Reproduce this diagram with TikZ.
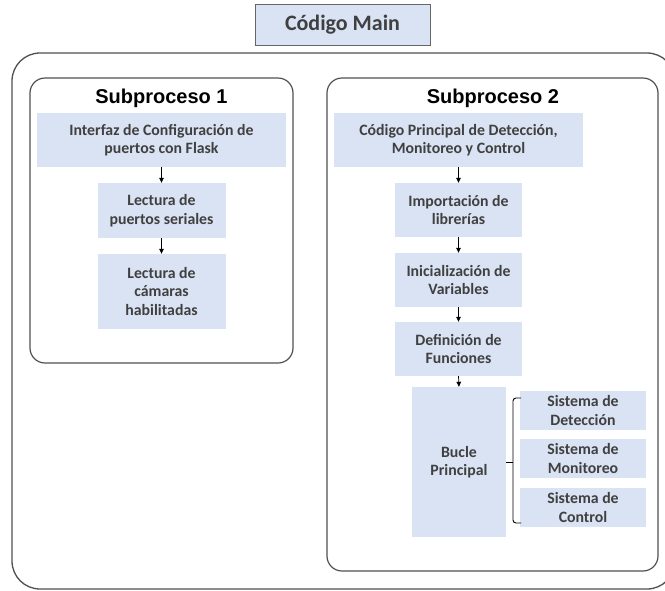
\documentclass[tikz,border=0pt]{standalone}
\usepackage{fontspec}
\setmainfont{Carlito}
\newfontfamily\headfont{Liberation Sans}
\usetikzlibrary{arrows.meta}
\definecolor{boxfill}{HTML}{DAE3F3}
\definecolor{txtgray}{HTML}{404040}
\definecolor{linegray}{HTML}{505050}
\tikzset{
  bx/.style={fill=boxfill, draw=none, inner sep=0pt, align=center,
    text=txtgray, font=\fontsize{15.8}{18.6}\selectfont\bfseries},
  frame/.style={draw=linegray, line width=1.2pt, rounded corners=15pt},
  head/.style={font=\headfont\fontsize{20}{22}\selectfont\bfseries, text=black, inner sep=0pt},
  arr/.style={-{Triangle[length=5pt,width=4.5pt]}, line width=0.7pt, black},
}
\begin{document}
\begin{tikzpicture}[x=1pt,y=-1pt]
\useasboundingbox (0,0) rectangle (665,590);
\begin{scope}
\clip (0,0) rectangle (665,590);
\draw[draw=linegray, line width=1.3pt, rounded corners=28pt] (12,53) rectangle (675,589);
\end{scope}
% title
\node[bx, draw=gray!80!black, line width=0.9pt, minimum width=175pt, minimum height=41pt,
  font=\fontsize{22}{24}\selectfont\bfseries] (main) at (342.5,24.5) {Código Main};
% frames
\draw[frame] (30,78) rectangle (293,363);
\draw[frame] (327,78) rectangle (658,571);
\node[head] (h1) at (161.5,98) {Subproceso 1};
\node[head] (h2) at (493,98) {Subproceso 2};
% subproceso 1
\node[bx, minimum width=249pt, minimum height=54pt] (a1) at (161.5,140) {Interfaz de Configuración de\\puertos con Flask};
\node[bx, minimum width=128pt, minimum height=55pt] (a2) at (161.5,210.5) {Lectura de\\puertos seriales};
\node[bx, minimum width=128pt, minimum height=75pt] (a3) at (161.5,291.5) {Lectura de\\cámaras\\habilitadas};
\draw[arr] (a1.south) -- (a2.north);
\draw[arr] (a2.south) -- (a3.north);
% subproceso 2
\node[bx, minimum width=249pt, minimum height=54pt] (b1) at (458.5,140) {Código Principal de Detección,\\Monitoreo y Control};
\node[bx, minimum width=127pt, minimum height=54pt] (b2) at (458.5,210) {Importación de\\librerías};
\node[bx, minimum width=127pt, minimum height=54pt] (b3) at (458.5,280) {Inicialización de\\Variables};
\node[bx, minimum width=127pt, minimum height=54pt] (b4) at (458.5,349) {Definición de\\Funciones};
\node[bx, minimum width=94pt, minimum height=150pt] (b5) at (459,462) {Bucle\\Principal};
\draw[arr] (b1.south) -- (b2.north);
\draw[arr] (b2.south) -- (b3.north);
\draw[arr] (b3.south) -- (b4.north);
\draw[arr] (b4.south) -- (b5.north);
\node[bx, minimum width=126pt, minimum height=39pt] (s1) at (583,410.5) {Sistema de\\Detección};
\node[bx, minimum width=126pt, minimum height=39pt] (s2) at (583,458.5) {Sistema de\\Monitoreo};
\node[bx, minimum width=126pt, minimum height=39pt] (s3) at (583,507.5) {Sistema de\\Control};
% bracket
\coordinate (bt) at (521,398);
\coordinate (bb) at (521,523);
\draw[line width=0.9pt, black] (b5.east) -- (513,462);
\draw[line width=0.9pt, black, rounded corners=3pt] (bt) -- (513,398) -- (513,523) -- (bb);
\end{tikzpicture}
\end{document}
